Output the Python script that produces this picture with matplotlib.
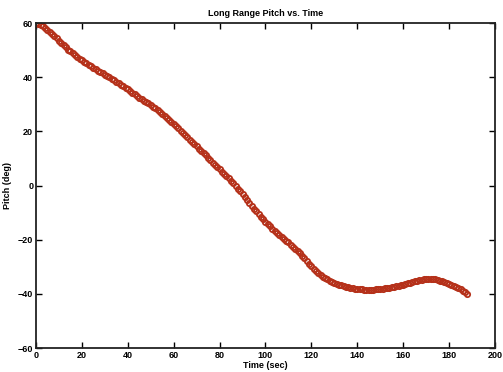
import numpy as np
import matplotlib
matplotlib.use("Agg")
import matplotlib.pyplot as plt

# pitch samples, one per second of the long-range run
time_s = list(range(0, 189))
pitch_deg = [
    60.0, 59.8, 59.4, 58.9, 58.3, 57.6, 56.8, 56.0, 55.2, 54.3,
    53.5, 52.6, 51.8, 51.0, 50.2, 49.5, 48.8, 48.1, 47.5, 46.9,
    46.3, 45.7, 45.1, 44.5, 44.0, 43.4, 42.9, 42.4, 41.9, 41.4,
    40.9, 40.4, 39.9, 39.4, 38.9, 38.4, 37.8, 37.3, 36.7, 36.1,
    35.5, 34.9, 34.3, 33.7, 33.1, 32.5, 31.9, 31.4, 30.8, 30.3,
    29.7, 29.1, 28.5, 27.8, 27.2, 26.5, 25.8, 25.1, 24.3, 23.5,
    22.7, 21.9, 21.1, 20.3, 19.4, 18.6, 17.8, 17.0, 16.2, 15.3,
    14.5, 13.6, 12.8, 11.9, 11.1, 10.2, 9.4, 8.5, 7.7, 6.8,
    6.0, 5.1, 4.3, 3.4, 2.6, 1.7, 0.8, -0.1, -1.1, -2.0,
    -3.0, -4.1, -5.2, -6.3, -7.4, -8.5, -9.5, -10.5, -11.5, -12.5,
    -13.5, -14.3, -15.1, -15.9, -16.7, -17.5, -18.2, -18.9, -19.6, -20.3,
    -21.0, -21.8, -22.6, -23.4, -24.2, -25.0, -25.9, -26.9, -27.9, -28.9,
    -29.8, -30.7, -31.5, -32.3, -33.0, -33.6, -34.1, -34.6, -35.1, -35.5,
    -35.9, -36.3, -36.6, -36.9, -37.2, -37.4, -37.6, -37.8, -37.9, -38.1,
    -38.2, -38.3, -38.3, -38.4, -38.4, -38.4, -38.4, -38.4, -38.3, -38.3,
    -38.2, -38.1, -38.0, -37.9, -37.8, -37.6, -37.4, -37.2, -37.0, -36.8,
    -36.6, -36.4, -36.1, -35.9, -35.6, -35.4, -35.2, -35.0, -34.8, -34.7,
    -34.6, -34.5, -34.5, -34.6, -34.7, -34.9, -35.1, -35.4, -35.7, -35.9,
    -36.2, -36.6, -37.0, -37.4, -37.9, -38.3, -38.8, -39.4, -40.0,
]
x_ticks = [0, 20, 40, 60, 80, 100, 120, 140, 160, 180, 200]
y_ticks = [-60, -40, -20, 0, 20, 40, 60]

plt.rcParams["font.family"] = ["Liberation Sans", "DejaVu Sans"]
plt.rcParams["font.weight"] = "bold"

fig = plt.figure(figsize=(5.03, 3.72), dpi=100)
ax = fig.add_axes([0.0716, 0.0645, 0.9124, 0.8735])

ax.plot(time_s, pitch_deg, linestyle="none", marker="o", ms=3.8,
        mfc="none", mec="#b5311a", mew=1.3)

ax.set_xlim(0, 200)
ax.set_ylim(-60, 60)
ax.set_xticks(x_ticks)
ax.set_yticks(y_ticks)
ax.tick_params(direction="in", length=4, width=1.0, labelsize=6.5, pad=2,
               top=True, right=True, colors="black")
for sp in ax.spines.values():
    sp.set_linewidth(1.3)
    sp.set_color("#222222")

ax.set_title("Long Range Pitch vs. Time", fontsize=6.5, fontweight="bold", pad=5)
ax.set_xlabel("Time (sec)", fontsize=6.5, fontweight="bold", labelpad=1)
ax.set_ylabel("Pitch (deg)", fontsize=6.5, fontweight="bold", labelpad=4)

fig.savefig("out.png", dpi=100)
